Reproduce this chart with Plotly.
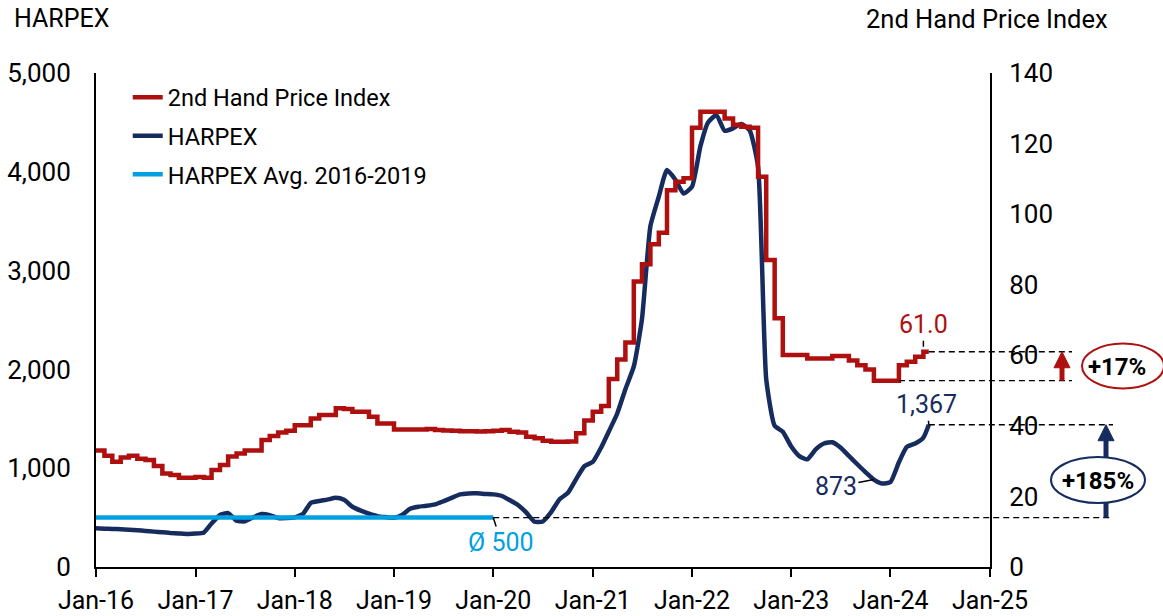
import plotly.graph_objects as go
import pandas as pd

# ---------------- data ----------------
months = list(pd.date_range("2016-01-01", "2024-05-01", freq="MS").strftime("%Y-%m-%d")) + ["2024-05-21"]

price_index = [
    33.0, 31.5, 29.8, 31.0, 31.5, 30.7, 30.3, 28.6, 26.5, 26.1, 25.3, 25.3,   # 2016
    25.5, 25.3, 27.5, 28.9, 31.3, 32.2, 33.0, 33.0, 36.0, 37.1, 38.1, 38.6,   # 2017
    40.2, 40.2, 42.1, 43.1, 43.1, 45.0, 44.8, 44.0, 44.0, 42.6, 40.7, 40.7,   # 2018
    39.0, 39.0, 39.0, 39.0, 39.1, 38.8, 38.7, 38.6, 38.5, 38.5, 38.4, 38.5,   # 2019
    38.6, 38.8, 38.3, 38.1, 36.9, 36.5, 35.8, 35.5, 35.5, 35.6, 37.9, 41.5,   # 2020
    44.0, 45.6, 53.3, 58.8, 63.6, 80.9, 85.8, 91.5, 94.7, 106.8, 109.2, 110.2,  # 2021
    124.5, 129.0, 129.0, 129.0, 127.1, 125.3, 124.8, 124.5, 110.6, 87.0, 70.5, 60.1,  # 2022
    60.1, 60.1, 59.1, 59.1, 59.1, 59.8, 59.8, 58.5, 57.2, 56.0, 52.8, 52.8,   # 2023
    52.8, 57.2, 58.2, 59.6, 61.0, 61.0,                                       # 2024
]

harpex = [
    391, 388, 385, 382, 378, 372, 365, 358, 352, 345, 340, 335,               # 2016
    338, 350, 440, 526, 545, 468, 462, 503, 536, 525, 495, 495,               # 2017
    502, 540, 650, 668, 682, 700, 680, 610, 570, 540, 515, 505,               # 2018
    498, 530, 590, 610, 620, 634, 665, 700, 735, 745, 746, 740,               # 2019
    735, 720, 678, 627, 553, 458, 461, 556, 686, 748, 890, 1020,              # 2020
    1063, 1210, 1371, 1554, 1800, 2030, 2510, 3450, 3750, 4018, 3920, 3780,   # 2021
    3850, 4260, 4500, 4574, 4415, 4440, 4485, 4420, 4050, 1900, 1430, 1370,   # 2022
    1220, 1120, 1090, 1190, 1250, 1262, 1210, 1125, 1040, 960, 885, 845,      # 2023
    860, 1060, 1215, 1250, 1310, 1440,                                        # 2024
]

avg_dates = ["2016-01-01", "2020-01-01"]
avg_value = 500

x_range = ["2016-01-01", "2025-01-01"]
x_tickvals = [f"{y}-01-01" for y in range(2016, 2026)]
x_ticktext = [f"Jan-{y % 100:02d}" for y in range(2016, 2026)]
y1_range = [0, 5000]
y2_range = [0, 140]

label_last_price = "61.0"
label_last_harpex = "1,367"
label_min_harpex = "873"
label_avg = "Ø 500"
label_price_chg = "+17%"
label_harpex_chg = "+185%"

# ---------------- style ----------------
RED = "#AE1010"
NAVY = "#172C5E"
LBLUE = "#00A0E3"
FONT = "Roboto"

t0 = pd.Timestamp(x_range[0]).value
t1 = pd.Timestamp(x_range[1]).value


def xp(d):
    return (pd.Timestamp(d).value - t0) / (t1 - t0)


def yp1(v):
    return (v - y1_range[0]) / (y1_range[1] - y1_range[0])


def yp2(v):
    return (v - y2_range[0]) / (y2_range[1] - y2_range[0])


fig = go.Figure()
fig.add_trace(go.Scatter(x=months, y=harpex, name="HARPEX", mode="lines",
                         line=dict(color=NAVY, width=4.5, shape="spline", smoothing=0.5),
                         legendrank=2, legendgroup="b"))
fig.add_trace(go.Scatter(x=avg_dates, y=[avg_value] * len(avg_dates), name="HARPEX Avg. 2016-2019",
                         mode="lines", line=dict(color=LBLUE, width=4.5), legendrank=3,
                         legendgroup="c"))
fig.add_trace(go.Scatter(x=months, y=price_index, name="2nd Hand Price Index", mode="lines",
                         line=dict(color=RED, width=4.5, shape="hv"), yaxis="y2", legendrank=1,
                         legendgroup="a"))

# positions for helper lines
last_date = months[-1]
last_price = price_index[-1]
last_harpex = harpex[-1]
recent = price_index[-12:]
base_price = min(recent)
base_idx = len(price_index) - 12 + max(i for i, v in enumerate(recent) if v == base_price)
base_end_date = months[base_idx + 1]
min_idx = len(harpex) - 12 + harpex[-12:].index(min(harpex[-12:]))

PX_W = 894.0
PX_H = 494.0
dash_end_red = 1 + 82 / PX_W
dash_end_navy = 1 + 123 / PX_W

shapes = []
dash = dict(color="black", width=1.3, dash="6px,4px")
shapes.append(dict(type="line", xref="paper", yref="paper", x0=xp(last_date), x1=dash_end_red,
                   y0=yp2(last_price), y1=yp2(last_price), line=dash))
shapes.append(dict(type="line", xref="paper", yref="paper", x0=xp(base_end_date), x1=dash_end_red,
                   y0=yp2(base_price), y1=yp2(base_price), line=dash))
shapes.append(dict(type="line", xref="paper", yref="paper", x0=xp(last_date), x1=dash_end_navy,
                   y0=yp1(last_harpex), y1=yp1(last_harpex), line=dash))
shapes.append(dict(type="line", xref="paper", yref="paper", x0=xp(avg_dates[-1]), x1=dash_end_navy,
                   y0=yp1(avg_value), y1=yp1(avg_value), line=dash))


def arrow(xc, yb, yt, color):
    hh = 16 / PX_H
    hw = 8 / PX_W
    out = [dict(type="line", xref="paper", yref="paper", x0=xc, x1=xc, y0=yb, y1=yt - hh + 0.002,
                line=dict(color=color, width=5), layer="above")]
    out.append(dict(type="path", xref="paper", yref="paper",
                    path=f"M {xc - hw} {yt - hh} L {xc + hw} {yt - hh} L {xc} {yt} Z",
                    fillcolor=color, line=dict(color=color, width=1), layer="above"))
    return out


shapes += arrow(1 + 72 / PX_W, yp2(base_price), yp2(last_price), RED)
shapes += arrow(1 + 116 / PX_W, yp1(avg_value), yp1(last_harpex), NAVY)

# ellipses
shapes.append(dict(type="circle", xref="paper", yref="paper", layer="above",
                   x0=1 + 92 / PX_W, x1=1 + 174 / PX_W, y0=178.5 / PX_H, y1=223.5 / PX_H,
                   fillcolor="white", opacity=1, line=dict(color=RED, width=2)))
shapes.append(dict(type="circle", xref="paper", yref="paper", layer="above",
                   x0=1 + 61 / PX_W, x1=1 + 155 / PX_W, y0=64 / PX_H, y1=110 / PX_H,
                   fillcolor="white", opacity=1, line=dict(color=NAVY, width=2)))

annotations = []
tf = dict(family=FONT, size=25)
annotations.append(dict(x=months[-2], y=last_price, yref="y2", text=label_last_price, showarrow=True,
                        arrowhead=0, arrowwidth=1.5, arrowcolor="black", ax=0, ay=-27, standoff=5,
                        font=dict(tf, color=RED)))
annotations.append(dict(x=last_date, y=last_harpex, yref="y", text=label_last_harpex, showarrow=True,
                        arrowhead=0, arrowwidth=1.5, arrowcolor="black", ax=-2, ay=-20,
                        font=dict(tf, color=NAVY)))
annotations.append(dict(x=months[min_idx - 1], y=harpex[min_idx - 1], yref="y", text=label_min_harpex,
                        showarrow=True, arrowhead=0, arrowwidth=1.5, arrowcolor="black", ax=-38, ay=7,
                        font=dict(tf, color=NAVY)))
annotations.append(dict(x=avg_dates[-1], y=avg_value, yref="y", text=label_avg, showarrow=True,
                        arrowhead=0, arrowwidth=1.5, arrowcolor="black", ax=8, ay=25,
                        font=dict(tf, color=LBLUE)))
annotations.append(dict(x=1 + 127 / PX_W, y=200 / PX_H, xref="paper", yref="paper",
                        xanchor="center", yanchor="middle",
                        text=f"<b>{label_price_chg}</b>", showarrow=False,
                        font=dict(family=FONT, size=24, color="black")))
annotations.append(dict(x=1 + 108 / PX_W, y=86 / PX_H, xref="paper", yref="paper",
                        xanchor="center", yanchor="middle",
                        text=f"<b>{label_harpex_chg}</b>", showarrow=False,
                        font=dict(family=FONT, size=24, color="black")))
annotations.append(dict(x=-84 / PX_W, y=1 + 54 / PX_H, xref="paper", yref="paper", text="HARPEX",
                        xanchor="left", yanchor="middle", showarrow=False,
                        font=dict(tf, color="black")))
annotations.append(dict(x=1 + 120 / PX_W, y=1 + 54 / PX_H, xref="paper", yref="paper",
                        text="2nd Hand Price Index", xanchor="right", yanchor="middle",
                        showarrow=False, font=dict(family=FONT, size=25.5, color="black")))

axis_common = dict(showgrid=False, zeroline=False, showline=True, linecolor="black", linewidth=2,
                   automargin=False)
tick_font = dict(family=FONT, size=26, color="black")

fig.update_layout(
    width=1163, height=616,
    margin=dict(l=96, r=173, t=73, b=49, autoexpand=False),
    paper_bgcolor="white", plot_bgcolor="white",
    font=dict(family=FONT, size=24, color="black"),
    showlegend=True,
    legend=dict(x=0.0355, y=0.995, xanchor="left", yanchor="top", bgcolor="rgba(0,0,0,0)",
                font=dict(family=FONT, size=23.5, color="black"), traceorder="grouped",
                tracegroupgap=5),
    xaxis=dict(axis_common, range=x_range, tickvals=x_tickvals, ticktext=x_ticktext,
               ticks="outside", ticklen=8, tickwidth=2, tickcolor="black", ticklabelstandoff=2,
               tickfont=dict(family=FONT, size=25, color="black")),
    yaxis=dict(axis_common, range=y1_range, tickvals=list(range(0, 5001, 1000)), tickformat=",",
               ticks="", ticklabelstandoff=18, tickfont=tick_font),
    yaxis2=dict(axis_common, range=y2_range, dtick=20, overlaying="y", side="right", ticks="",
                ticklabelstandoff=12, tickfont=tick_font),
    shapes=shapes,
    annotations=annotations,
)

fig.write_html("out.html", config={"displayModeBar": False},
               post_script="document.body.style.margin='0';document.body.style.overflow='hidden';")
